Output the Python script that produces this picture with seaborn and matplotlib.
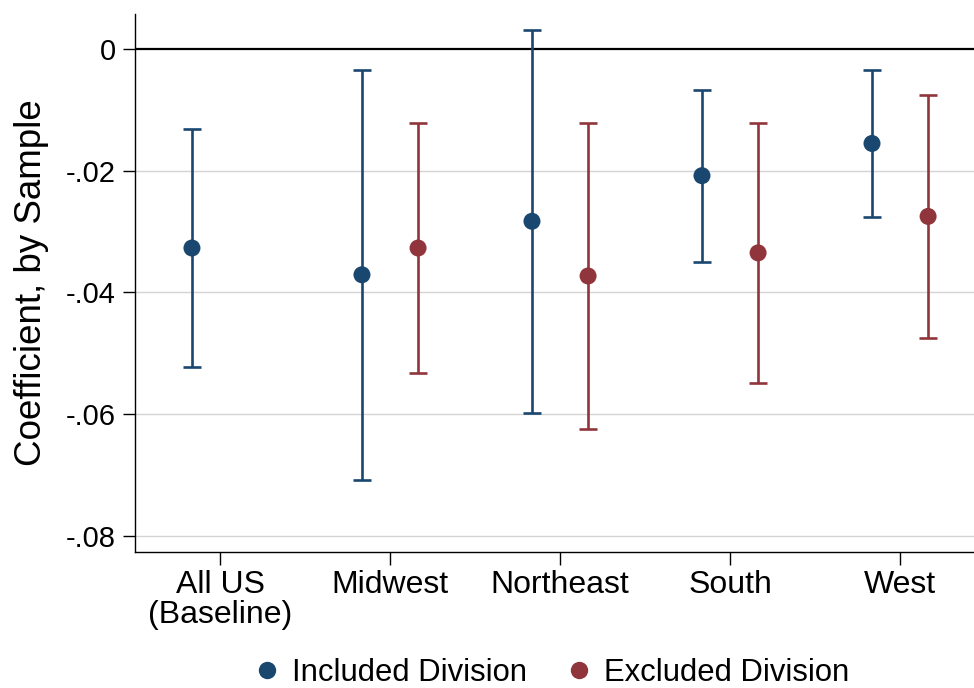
import matplotlib
matplotlib.use("Agg")
import matplotlib.pyplot as plt
import seaborn as sns
import pandas as pd
import numpy as np

# ===============================
# Data
# ===============================
regions = ["All US\n(Baseline)", "Midwest", "Northeast", "South", "West"]
samples = ["Included Division", "Excluded Division"]

incl_coef = [-0.0327, -0.0371, -0.0283, -0.0208, -0.0155]
incl_lo = [-0.0522, -0.0708, -0.0598, -0.0350, -0.0276]
incl_hi = [-0.0131, -0.0034, 0.0032, -0.0067, -0.0034]

excl_region = ["Midwest", "Northeast", "South", "West"]
excl_coef = [-0.0327, -0.0373, -0.0335, -0.0275]
excl_lo = [-0.0532, -0.0624, -0.0549, -0.0475]
excl_hi = [-0.0122, -0.0122, -0.0121, -0.0076]

colors = {"Included Division": "#1a476f", "Excluded Division": "#90353b"}

df_in = pd.DataFrame({"region": regions, "coef": incl_coef, "lo": incl_lo,
                      "hi": incl_hi, "sample": samples[0]})
df_ex = pd.DataFrame({"region": excl_region, "coef": excl_coef, "lo": excl_lo,
                      "hi": excl_hi, "sample": samples[1]})
df = pd.concat([df_in, df_ex], ignore_index=True)

pos = {r.replace("\n", " "): i for i, r in enumerate(regions)}
df["pos"] = df["region"].str.replace("\n", " ").map(pos)
# pairs sit either side of the tick
offset = {"Included Division": -0.165, "Excluded Division": 0.165}
df["x"] = df["pos"] + df["sample"].map(offset)

# ===============================
# Plot
# ===============================
sns.set_style("white")
plt.rcParams["font.family"] = ["Liberation Sans", "DejaVu Sans"]
plt.rcParams["text.color"] = "black"
plt.rcParams["axes.labelcolor"] = "black"
plt.rcParams["xtick.color"] = "black"
plt.rcParams["ytick.color"] = "black"

fig = plt.figure(figsize=(9.74, 6.88), dpi=100)
ax = fig.add_axes([0.1386, 0.1977, 0.8614, 0.782])

ax.axhline(0, color="black", lw=1.6, zorder=1)
for yv in [-0.02, -0.04, -0.06, -0.08]:
    ax.axhline(yv, color="#d4d4d4", lw=1.0, zorder=0)

for s in samples:
    sub = df[df["sample"] == s]
    ax.errorbar(sub["x"], sub["coef"],
                yerr=[sub["coef"] - sub["lo"], sub["hi"] - sub["coef"]],
                fmt="none", ecolor=colors[s], elinewidth=1.9,
                capsize=6.5, capthick=1.9, zorder=2)

sns.scatterplot(data=df, x="x", y="coef", hue="sample", palette=colors,
                hue_order=samples, s=150, edgecolor="none", ax=ax, zorder=3,
                legend=False)

ax.set_xlim(-0.5, 4.435)
ax.set_ylim(-0.0827, 0.0058)
ax.set_xticks(range(len(regions)))
ax.set_xticklabels(regions, fontsize=23, linespacing=0.98)
yt = [0, -0.02, -0.04, -0.06, -0.08]
ax.set_yticks(yt)
ax.set_yticklabels(["0", "-.02", "-.04", "-.06", "-.08"], fontsize=21)
ax.tick_params(axis="both", direction="out", length=9, width=1.0,
               color="black", pad=5, left=True, bottom=True)
ax.tick_params(axis="x", pad=4)
ax.set_xlabel("")
ax.set_ylabel("Coefficient, by Sample", fontsize=26.5, labelpad=12)

for side in ["top", "right"]:
    ax.spines[side].set_visible(False)
for side in ["left", "bottom"]:
    ax.spines[side].set_color("black")
    ax.spines[side].set_linewidth(1.0)

handles = [plt.Line2D([], [], marker="o", ls="none", markersize=11.5,
                      color=colors[s], label=s) for s in samples]
fig.legend(handles=handles, loc="center", bbox_to_anchor=(0.565, 0.022),
           ncol=2, frameon=False, fontsize=22.3, handlelength=1.0,
           handletextpad=0.3, columnspacing=1.2)

plt.savefig("out.png", dpi=100)
plt.close()
